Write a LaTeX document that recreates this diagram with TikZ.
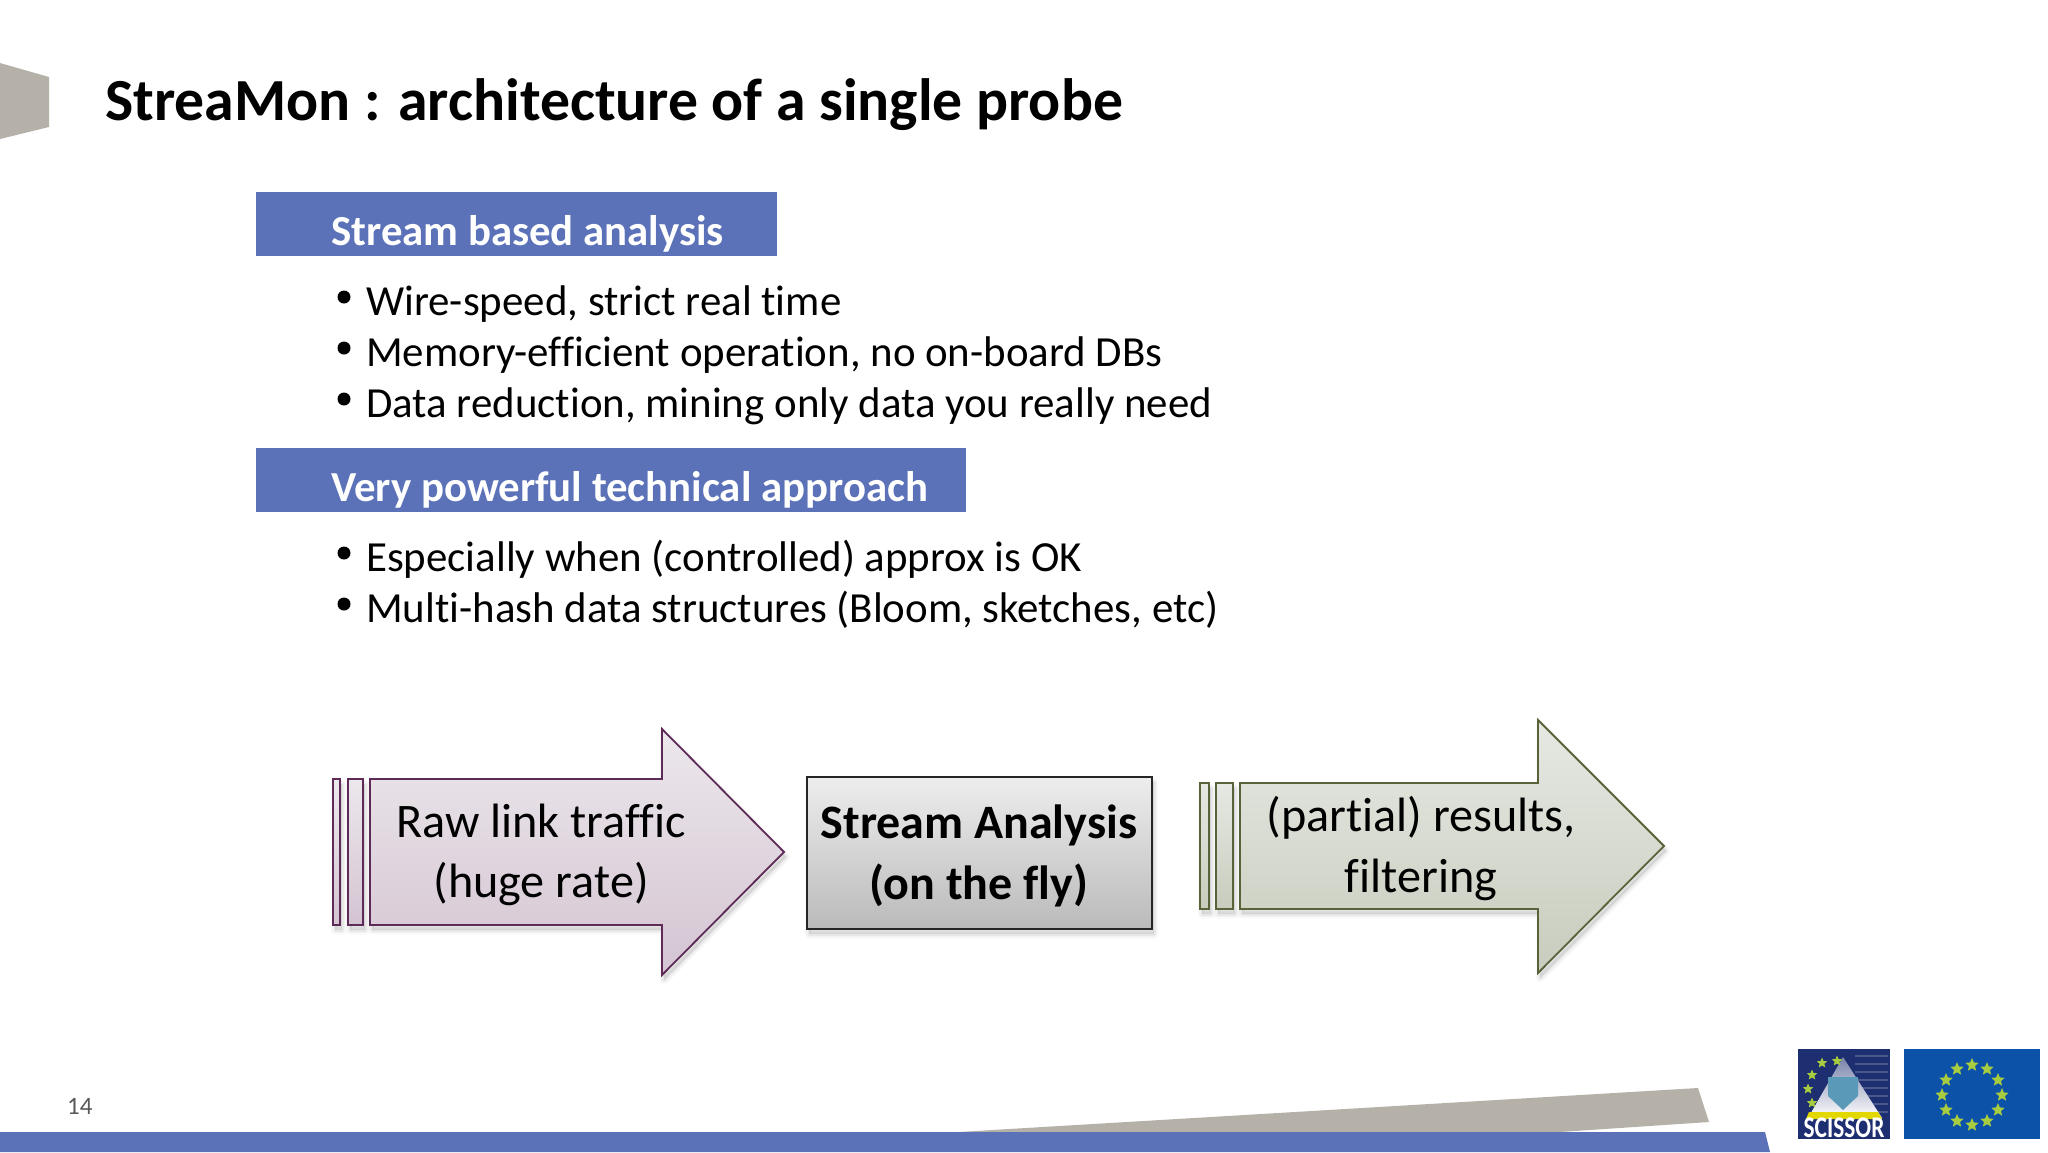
\documentclass[tikz,border=0pt]{standalone}
\usepackage{fontspec}
\setmainfont{Carlito}[Ligatures=NoCommon]
\usetikzlibrary{shapes.geometric}
\definecolor{slideblue}{HTML}{5B72B8}
\definecolor{slidegrey}{HTML}{B5B1A8}
\definecolor{flagblue}{HTML}{0B52A8}
\definecolor{logoblue}{HTML}{1D2F70}
\definecolor{stargreen}{HTML}{A8CC40}
\definecolor{plumline}{HTML}{5E2A58}
\definecolor{oliveline}{HTML}{59633A}
\definecolor{plumtop}{HTML}{ECE8EC}
\definecolor{plumbot}{HTML}{D4C4D2}
\definecolor{olivetop}{HTML}{E6E9E3}
\definecolor{olivebot}{HTML}{C7CCBD}
\newcommand{\fs}[1]{\fontsize{#1}{#1}\selectfont}
\newcommand{\softshadow}[1]{%
  \foreach \w/\o in {9/.02,6/.03,3/.04}{\fill[black,opacity=\o,draw=black,line width=\w,line join=round,shift={(2,5)}] #1;}}
\tikzset{
  titletext/.style={anchor=base west,inner sep=0,font=\fs{59.7}\bfseries,text=black},
  headtext/.style={anchor=base west,inner sep=0,font=\fs{42.8}\bfseries,text=white},
  bullettext/.style={anchor=base west,inner sep=0,font=\fs{42.9},text=black},
  dot/.style={circle,fill=black,inner sep=0,minimum size=13},
  bigtext/.style={anchor=base,inner sep=0,font=\fs{48.2},text=black},
  boldtext/.style={anchor=base,inner sep=0,font=\fs{48}\bfseries,text=black},
  plumshape/.style={draw=plumline,line width=1.8,top color=plumtop,bottom color=plumbot,line join=miter},
  oliveshape/.style={draw=oliveline,line width=1.8,top color=olivetop,bottom color=olivebot,line join=miter},
  flagstar/.style={star,star points=5,star point ratio=2.2,fill=stargreen,inner sep=0,minimum size=14},
}
\begin{document}
\begin{tikzpicture}[x=1pt,y=-1pt]
\useasboundingbox (0,0) rectangle (2048,1152);
\fill[white] (0,0) rectangle (2048,1152);
% decoration
\fill[slidegrey] (0,63) -- (49,77) -- (49,127) -- (0,139) -- cycle;
\fill[slidegrey] (925,1134) -- (1698,1088) -- (1709,1122) -- (1530,1134) -- cycle;
\fill[slideblue] (0,1132) -- (1765,1132) -- (1770,1152) -- (0,1152) -- cycle;
% title
\node[titletext] (title) at (105,120) {StreaMon : architecture of a single probe};
% first block
\fill[slideblue] (256,192) rectangle (777,256);
\node[headtext] (h1) at (331,245) {Stream based analysis};
\node[dot] (d1) at (344,297) {};
\node[bullettext] (b1) at (366,315) {Wire-speed, strict real time};
\node[dot] (d2) at (344,348) {};
\node[bullettext] (b2) at (366,366) {Memory-efficient operation, no on-board DBs};
\node[dot] (d3) at (344,399) {};
\node[bullettext] (b3) at (366,417) {Data reduction, mining only data you really need};
% second block
\fill[slideblue] (256,448) rectangle (966,512);
\node[headtext] (h2) at (331,501) {Very powerful technical approach};
\node[dot] (d4) at (344,553) {};
\node[bullettext] (b4) at (366,571) {Especially when (controlled) approx is OK};
\node[dot] (d5) at (344,604) {};
\node[bullettext] (b5) at (366,622) {Multi-hash data structures (Bloom, sketches, etc)};
% raw link arrow
\softshadow{(370,779) -- (662,779) -- (662,729) -- (784,852) -- (662,975) -- (662,925) -- (370,925) -- cycle}
\softshadow{(348,779) rectangle (363,925)}
\softshadow{(333,779) rectangle (340,925)}
\path[plumshape] (333,779) rectangle (340,925);
\path[plumshape] (348,779) rectangle (363,925);
\path[plumshape] (370,779) -- (662,779) -- (662,729) -- (784,852) -- (662,975) -- (662,925) -- (370,925) -- cycle;
\node[bigtext] (r1) at (541,837) {Raw link traffic};
\node[bigtext] (r2) at (541,897) {(huge rate)};
% analysis box
\softshadow{(807,777) rectangle (1152,929)}
\path[draw=black!85,line width=2,top color=black!7,bottom color=black!27] (807,777) rectangle (1152,929);
\node[boldtext] (s1) at (979,838) {Stream Analysis};
\node[boldtext] (s2) at (979,899) {(on the fly)};
% results arrow
\softshadow{(1240,783) -- (1538,783) -- (1538,720) -- (1664,846) -- (1538,973) -- (1538,909) -- (1240,909) -- cycle}
\softshadow{(1216,783) rectangle (1233,909)}
\softshadow{(1200,783) rectangle (1209,909)}
\path[oliveshape] (1200,783) rectangle (1209,909);
\path[oliveshape] (1216,783) rectangle (1233,909);
\path[oliveshape] (1240,783) -- (1538,783) -- (1538,720) -- (1664,846) -- (1538,973) -- (1538,909) -- (1240,909) -- cycle;
\node[bigtext] (p1) at (1421,831) {(partial) results,};
\node[bigtext] (p2) at (1421,892) {filtering};
% page number
\node[anchor=base west,inner sep=0,font=\fs{25},text=black!65] (pg) at (67,1114) {14};
% SCISSOR logo
\fill[logoblue] (1798,1049) rectangle (1890,1139);
\foreach \yy in {1056,1064,...,1112}{\draw[white,opacity=.2,line width=1.5] (1855,\yy) -- (1888,\yy);}
\shade[top color=logoblue!60!white,bottom color=white] (1843,1057) -- (1882,1118) -- (1808,1118) -- cycle;
\fill[logoblue!70!cyan!70!white] (1828,1077) -- (1858,1077) -- (1858,1096) -- (1843,1110) -- (1828,1096) -- cycle;
\fill[yellow!75!olive] (1809,1112) -- (1878,1112) -- (1882,1119) -- (1806,1119) -- cycle;
\foreach \n/\x/\y in {a/1822/1063,b/1837/1061,c/1812/1075,d/1808/1089,e/1812/1103}{\node[flagstar,minimum size=11] (s\n) at (\x,\y) {};}
\node[anchor=base,inner sep=0,font=\fs{30}\bfseries,text=white] (logo) at (1844,1137) {\scalebox{.78}[1]{SCISSOR}};
% EU flag
\fill[flagblue] (1904,1049) rectangle (2040,1139);
\foreach \i in {1,...,12}{\node[flagstar] (eu\i) at ({1972+30*cos(30*\i)},{1095+30*sin(30*\i)}) {};}
\end{tikzpicture}
\end{document}
